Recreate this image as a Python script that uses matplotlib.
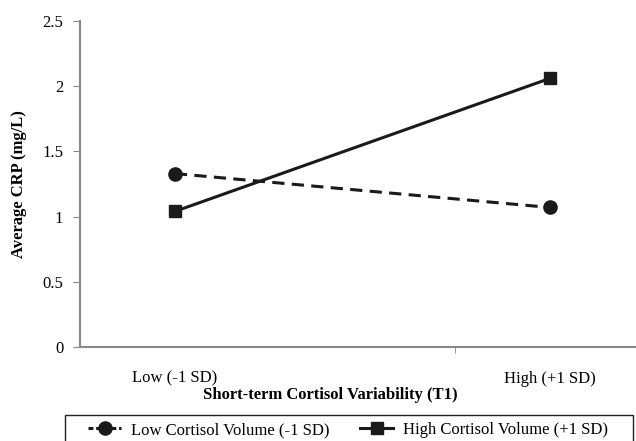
import matplotlib
matplotlib.use("Agg")
import matplotlib.pyplot as plt
from matplotlib.lines import Line2D
from matplotlib.patches import Rectangle

categories = ["Low (-1 SD)", "High (+1 SD)"]
low_vol = [1.33, 1.07]
high_vol = [1.04, 2.06]
series_names = ["Low Cortisol Volume (-1 SD)", "High Cortisol Volume (+1 SD)"]
yticks = [0, 0.5, 1, 1.5, 2, 2.5]
ytick_labels = ["0", "0.5", "1", "1.5", "2", "2.5"]

plt.rcParams['font.family'] = ['Liberation Serif', 'DejaVu Serif']

W, H = 636, 441
fig = plt.figure(figsize=(W/100, H/100), dpi=100)
left, right, bottom, top = 80, 640, 347, 21
ax = fig.add_axes([left/W, 1-bottom/H, (right-left)/W, (bottom-top)/H])

x = [0, 1]
ax.plot(x, low_vol, color='#1a1a1a', lw=2.2, ls=(0, (4, 2.4)), marker='o', ms=9.5, clip_on=False)
ax.plot(x, high_vol, color='#1a1a1a', lw=2.2, ls='-', marker='s', ms=9, clip_on=False)

ax.set_ylim(0, 2.5)
ax.set_xlim(-0.253, 1.24)
ax.set_yticks(yticks)
ax.set_yticklabels(ytick_labels, fontsize=12)
ax.set_xticks(x)
ax.set_xticklabels(categories, fontsize=12)
ax.tick_params(axis='x', length=0, pad=17)
ax.tick_params(axis='y', length=5, color='#888888', pad=7, direction='out')
ax.set_xticks([0.747], minor=True)
ax.tick_params(axis='x', which='minor', length=4, color='#888888', direction='out')
for s in ['top', 'right']:
    ax.spines[s].set_visible(False)
for s in ['left', 'bottom']:
    ax.spines[s].set_color('#888888')
    ax.spines[s].set_linewidth(1.5)

ax.set_ylabel("Average CRP (mg/L)", fontsize=12, fontweight='bold')
ax.yaxis.set_label_coords(-53/560, 0.5)
fig.text(330/W, 1-395/H, "Short-term Cortisol Variability (T1)", fontsize=12,
         fontweight='bold', ha='center', va='center')

fig.patches.append(Rectangle((65/W, -0.05), (633-65)/W, (1-415/H) + 0.05,
                             transform=fig.transFigure, fill=False,
                             edgecolor='#222222', lw=1.0))
handles = [Line2D([], [], color='#1a1a1a', lw=2.2, ls=(0, (1.6, 0.9)), marker='o', ms=9.5),
           Line2D([], [], color='#1a1a1a', lw=2.2, ls='-', marker='s', ms=9)]
leg = fig.legend(handles, series_names, ncol=2, loc='center left',
                 bbox_to_anchor=(88/W, 1-430/H), frameon=False,
                 fontsize=12, handlelength=2.0, handletextpad=0.6,
                 columnspacing=1.8, borderpad=0, borderaxespad=0)

fig.savefig("out.png", dpi=100)
